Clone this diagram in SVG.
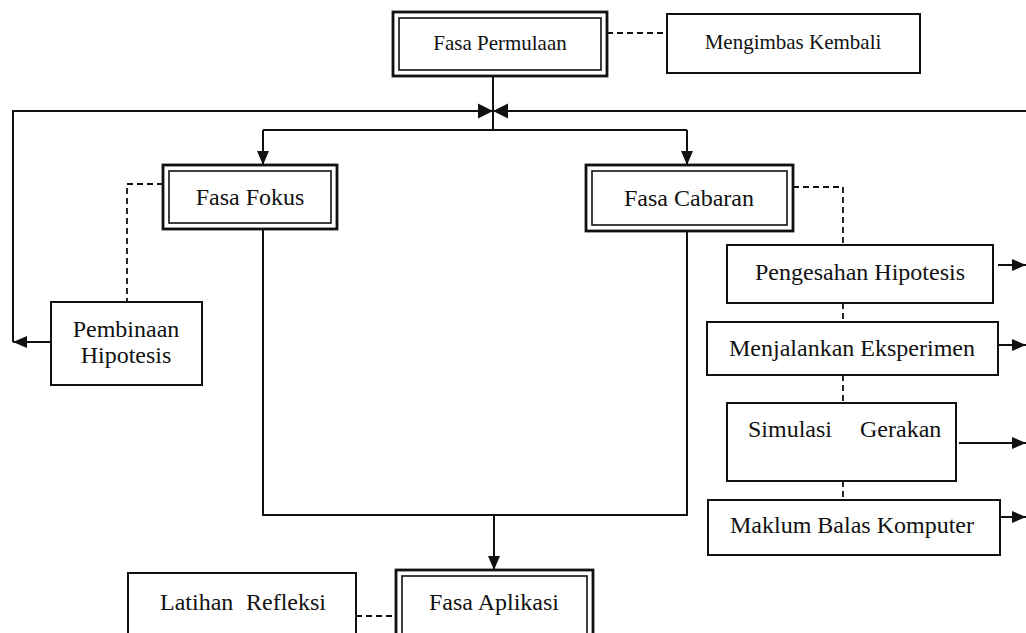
<svg xmlns="http://www.w3.org/2000/svg" width="1026" height="633" viewBox="0 0 1026 633">
<style>
text{font-family:"Liberation Serif","Times New Roman",serif;font-size:24px;fill:#111;text-anchor:middle}
.sm{font-size:21px}
.box{fill:#fff;stroke:#111;stroke-width:2}
.outer{fill:#fff;stroke:#111;stroke-width:2.8}
.inner{fill:none;stroke:#111;stroke-width:1.6}
.ln{fill:none;stroke:#111;stroke-width:2}
.dash{fill:none;stroke:#111;stroke-width:1.8;stroke-dasharray:6 4}
</style>
<defs>
<marker id="ah" viewBox="0 0 14 12" refX="14" refY="6" markerWidth="14" markerHeight="12" markerUnits="userSpaceOnUse" orient="auto">
<path d="M0,0 L14,6 L0,12 Z" fill="#111"/>
</marker>
</defs>
<rect width="1026" height="633" fill="#fff"/>
<g id="connectors">
<path class="ln" d="M13,342 L13,111 L1026,111"/>
<path d="M478,103.500 L493,111 L478,118.500 Z M508,103.500 L493,111 L508,118.500 Z" fill="#111"/>
<path class="ln" d="M493,76 L493,130"/>
<path class="ln" d="M263,130 L687,130"/>
<path class="ln" d="M263,130 L263,165" marker-end="url(#ah)"/>
<path class="ln" d="M687,130 L687,165" marker-end="url(#ah)"/>
<path class="ln" d="M263,229 L263,515 L687,515 L687,231"/>
<path class="ln" d="M494,515 L494,570" marker-end="url(#ah)"/>
<path class="ln" d="M51,342 L13,342" marker-end="url(#ah)"/>
<path class="ln" d="M998,265 L1026,265" marker-end="url(#ah)"/>
<path class="ln" d="M998,345 L1026,345" marker-end="url(#ah)"/>
<path class="ln" d="M959,443 L1026,443" marker-end="url(#ah)"/>
<path class="ln" d="M1000,517 L1026,517" marker-end="url(#ah)"/>
<path class="dash" d="M607,33 L667,33"/>
<path class="dash" d="M163,184 L127,184 L127,302"/>
<path class="dash" d="M793,187 L843,187 L843,245"/>
<path class="dash" d="M843,303 L843,322"/>
<path class="dash" d="M843,375 L843,403"/>
<path class="dash" d="M843,481 L843,500"/>
<path class="dash" d="M356,616 L396,616"/>
</g>
<g id="fasa-permulaan">
<rect class="outer" x="393" y="12" width="214" height="64"/>
<rect class="inner" x="399" y="18" width="202" height="52"/>
<text class="sm" x="500" y="50">Fasa Permulaan</text>
</g>
<g id="mengimbas-kembali">
<rect class="box" x="667" y="14" width="253" height="59"/>
<text class="sm" x="793" y="49">Mengimbas Kembali</text>
</g>
<g id="fasa-fokus">
<rect class="outer" x="163" y="165" width="174" height="64"/>
<rect class="inner" x="169" y="171" width="162" height="52"/>
<text x="250" y="205">Fasa Fokus</text>
</g>
<g id="fasa-cabaran">
<rect class="outer" x="586" y="165" width="207" height="66"/>
<rect class="inner" x="592" y="171" width="195" height="54"/>
<text x="689" y="206">Fasa Cabaran</text>
</g>
<g id="pembinaan-hipotesis">
<rect class="box" x="51" y="302" width="151" height="83"/>
<text x="126" y="337">Pembinaan</text>
<text x="126" y="363">Hipotesis</text>
</g>
<g id="pengesahan-hipotesis">
<rect class="box" x="727" y="245" width="266" height="58"/>
<text x="860" y="280">Pengesahan Hipotesis</text>
</g>
<g id="menjalankan-eksperimen">
<rect class="box" x="707" y="322" width="291" height="53"/>
<text x="852" y="356">Menjalankan Eksperimen</text>
</g>
<g id="simulasi-gerakan">
<rect class="box" x="727" y="403" width="229" height="78"/>
<text style="text-anchor:start"><tspan x="748" y="437">Simulasi</tspan><tspan x="860" y="437">Gerakan</tspan></text>
</g>
<g id="maklum-balas-komputer">
<rect class="box" x="708" y="500" width="292" height="55"/>
<text x="852" y="533">Maklum Balas Komputer</text>
</g>
<g id="latihan-refleksi">
<rect class="box" x="128" y="573" width="228" height="70"/>
<text style="text-anchor:start"><tspan x="160" y="610">Latihan</tspan><tspan x="246" y="610">Refleksi</tspan></text>
</g>
<g id="fasa-aplikasi">
<rect class="outer" x="396" y="570" width="197" height="75"/>
<rect class="inner" x="402" y="576" width="185" height="75"/>
<text x="494" y="610">Fasa Aplikasi</text>
</g>
</svg>
